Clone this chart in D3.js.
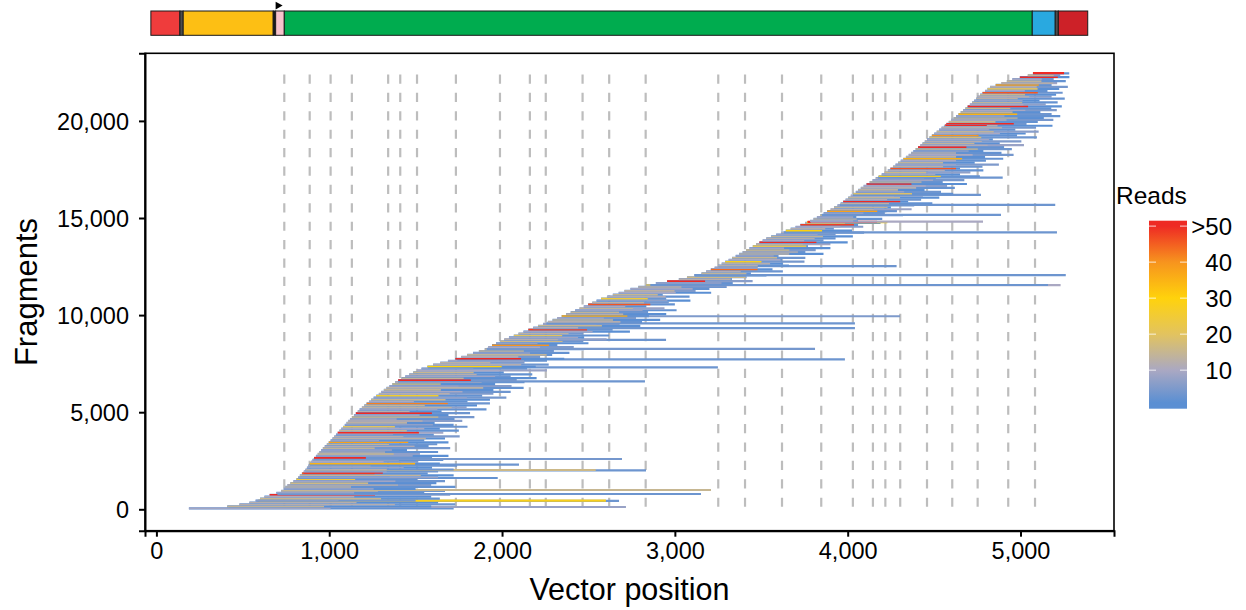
<!DOCTYPE html>
<html>
<head>
<meta charset="utf-8">
<script src="https://cdn.jsdelivr.net/npm/d3@7"></script>
<style>
  html, body { margin: 0; padding: 0; background: #ffffff; }
  svg { display: block; font-family: "Liberation Sans", Arial, Helvetica, sans-serif; }
</style>
</head>
<body>
<svg id="chart" width="1246" height="610"></svg>
<script>
// ---------------- data ----------------
// Fragments are sorted by start position and grouped in bins of 100.
// Each bin keeps its leftmost start, its longest fragment (end + reads)
// and a typical shorter fragment (length + reads).
const binSize = 100;

const binStart = [
  188, 410, 480, 538, 574, 600, 625, 655, 694, 722,
  737, 746, 758, 775, 793, 810, 820, 830, 842, 853,
  863, 871, 879, 887, 895, 903, 912, 923, 933, 943,
  953, 963, 974, 986, 997, 1008, 1019, 1029, 1039, 1049,
  1059, 1070, 1080, 1090, 1100, 1110, 1120, 1131, 1143, 1154,
  1165, 1176, 1189, 1203, 1216, 1230, 1243, 1257, 1272, 1287,
  1301, 1316, 1331, 1348, 1365, 1382, 1399, 1418, 1440, 1463,
  1486, 1509, 1534, 1568, 1601, 1642, 1687, 1730, 1764, 1798,
  1832, 1866, 1900, 1920, 1942, 1965, 1990, 2013, 2040, 2068,
  2095, 2124, 2152, 2180, 2208, 2237, 2265, 2292, 2319, 2345,
  2371, 2397, 2423, 2448, 2473, 2498, 2522, 2547, 2573, 2607,
  2641, 2675, 2708, 2743, 2788, 2833, 2890, 2955, 3023, 3070,
  3115, 3154, 3181, 3208, 3230, 3250, 3271, 3291, 3311, 3331,
  3352, 3372, 3392, 3412, 3432, 3451, 3470, 3489, 3508, 3529,
  3557, 3586, 3614, 3642, 3670, 3698, 3726, 3754, 3782, 3802,
  3822, 3842, 3861, 3881, 3901, 3921, 3941, 3959, 3974, 3988,
  4003, 4018, 4032, 4047, 4061, 4076, 4092, 4109, 4127, 4144,
  4162, 4179, 4197, 4214, 4232, 4247, 4262, 4277, 4292, 4307,
  4322, 4337, 4353, 4367, 4380, 4393, 4407, 4420, 4433, 4446,
  4459, 4473, 4487, 4501, 4515, 4529, 4543, 4557, 4571, 4585,
  4599, 4613, 4627, 4641, 4654, 4668, 4681, 4694, 4707, 4720,
  4732, 4744, 4751, 4766, 4780, 4795, 4809, 4824, 4856, 4889,
  4921, 4953, 4996, 5042, 5072
];

const binEnd = [
  1720, 1590, 1730, 1630, 1500, 1640, 1590, 1700, 1550, 1670,
  1500, 1730, 1590, 1620, 1670, 1510, 1630, 1720, 1570, 1630,
  1720, 1595, 1740, 1640, 1515, 1660, 1595, 1690, 1525, 1630,
  1450, 1700, 1575, 1625, 1690, 1550, 1670, 1755, 1605, 1660,
  1750, 1640, 1800, 1720, 1610, 1770, 1725, 1840, 1690, 1815,
  1650, 1910, 1795, 1855, 1930, 1800, 1930, 2025, 1885, 1950,
  2050, 1950, 2125, 2055, 1960, 2130, 2085, 2200, 2050, 2175,
  2010, 2260, 2145, 2195, 2270, 2130, 2260, 2360, 2220, 2290,
  2390, 2300, 2475, 2415, 2320, 2500, 2470, 2605, 2475, 2620,
  2470, 2740, 2640, 2710, 2800, 2680, 2810, 2915, 2775, 2850,
  2950, 2845, 3010, 2940, 2835, 3000, 2965, 3090, 2950, 3085,
  2930, 3210, 3120, 3200, 3300, 3190, 3335, 3450, 3330, 3415,
  3530, 3440, 3625, 3565, 3480, 3660, 3625, 3750, 3620, 3755,
  3600, 3860, 3755, 3815, 3900, 3770, 3900, 4000, 3860, 3930,
  4030, 3930, 4095, 4025, 3920, 4090, 4060, 4190, 4060, 4200,
  4050, 4320, 4215, 4285, 4370, 4250, 4385, 4490, 4350, 4425,
  4530, 4435, 4610, 4540, 4445, 4620, 4575, 4690, 4550, 4675,
  4510, 4765, 4650, 4710, 4785, 4650, 4780, 4875, 4735, 4800,
  4900, 4795, 4960, 4890, 4785, 4950, 4905, 5020, 4880, 5005,
  4840, 5095, 4980, 5030, 5105, 4970, 5090, 5185, 5035, 5100,
  5190, 5135, 5230, 5180, 5115, 5210, 5178, 5239, 5146, 5215,
  5110, 5256, 5180, 5206, 5244, 5156, 5224, 5274, 5180, 5212,
  5262, 5192, 5283, 5230, 5282
];

const binLongReads = [
  2, 1, 3, 1, 4, 2, 1, 6, 2, 3,
  1, 2, 5, 1, 3, 2, 8, 1, 2, 4,
  3, 1, 2, 1, 5, 2, 3, 1, 7, 2,
  1, 4, 2, 3, 1, 2, 1, 5, 2, 9,
  2, 1, 3, 2, 1, 6, 2, 4, 1, 3,
  1, 2, 7, 1, 3, 2, 1, 4, 2, 5,
  3, 1, 2, 6, 1, 2, 4, 1, 3, 2,
  1, 8, 2, 1, 3, 5, 2, 1, 4, 2,
  2, 3, 1, 5, 2, 1, 3, 7, 1, 2,
  4, 1, 2, 3, 1, 6, 2, 1, 5, 2,
  1, 3, 2, 8, 1, 2, 4, 1, 3, 2,
  2, 1, 5, 2, 3, 1, 2, 6, 1, 4,
  1, 2, 3, 1, 7, 2, 1, 4, 2, 3,
  3, 1, 2, 5, 1, 2, 9, 1, 3, 2,
  1, 4, 2, 1, 3, 6, 2, 1, 5, 2,
  2, 1, 3, 2, 8, 1, 4, 2, 1, 3,
  1, 5, 2, 3, 1, 2, 6, 1, 2, 4,
  3, 2, 1, 7, 2, 1, 3, 5, 1, 2,
  2, 1, 4, 2, 1, 3, 2, 8, 1, 5,
  1, 3, 2, 1, 6, 2, 4, 1, 3, 2,
  4, 1, 2, 3, 1, 5, 2, 1, 7, 2,
  1, 2, 6, 1, 3, 2, 1, 4, 2, 9,
  2, 3, 1, 5, 2
];

const binShortLen = [
  820, 560, 900, 620, 480, 700, 520, 610, 450, 560,
  520, 380, 640, 450, 590, 340, 530, 700, 420, 480,
  470, 560, 360, 610, 420, 500, 300, 560, 440, 380,
  410, 300, 520, 360, 460, 280, 540, 400, 330, 470,
  390, 480, 300, 510, 350, 430, 270, 500, 380, 440,
  300, 450, 520, 350, 470, 260, 430, 540, 360, 410,
  470, 330, 560, 400, 280, 500, 420, 360, 520, 390,
  350, 480, 300, 430, 510, 290, 440, 380, 330, 460,
  330, 260, 390, 300, 330, 240, 360, 310, 400, 280,
  290, 400, 340, 260, 370, 310, 420, 350, 270, 380,
  330, 280, 390, 310, 240, 360, 300, 410, 270, 340,
  260, 330, 290, 360, 250, 310, 380, 220, 300, 340,
  250, 260, 200, 270, 220, 230, 280, 210, 300, 260,
  220, 290, 320, 250, 200, 310, 270, 330, 240, 280,
  300, 240, 280, 210, 200, 260, 310, 230, 250, 250,
  210, 320, 230, 290, 250, 310, 200, 280, 330, 240,
  300, 250, 340, 280, 230, 320, 360, 260, 300, 350,
  280, 360, 310, 240, 330, 380, 290, 350, 260, 320,
  340, 290, 370, 260, 320, 360, 280, 390, 300, 330,
  360, 300, 270, 380, 330, 290, 350, 310, 390, 270,
  320, 370, 280, 340, 300, 360, 260, 350, 310, 290,
  280, 240, 300, 260, 320, 230, 290, 270, 250, 300,
  200, 170, 220, 150, 180
];

const binShortReads = [
  9, 14, 12, 12, 6, 15, 11, 52, 8, 13,
  7, 13, 12, 16, 9, 24, 7, 14, 45, 10,
  12, 8, 11, 35, 10, 11, 55, 7, 15, 12,
  9, 14, 11, 14, 38, 8, 13, 12, 6, 50,
  14, 10, 20, 7, 13, 12, 11, 16, 9, 55,
  12, 8, 13, 14, 42, 10, 15, 7, 26, 12,
  10, 14, 13, 8, 17, 11, 52, 14, 9, 12,
  15, 10, 7, 30, 12, 13, 9, 50, 11, 14,
  8, 14, 13, 10, 40, 7, 16, 12, 9, 20,
  13, 9, 48, 11, 15, 8, 12, 14, 10, 36,
  12, 14, 8, 14, 10, 46, 13, 7, 24, 11,
  15, 10, 13, 9, 13, 20, 8, 52, 12, 16,
  10, 14, 11, 44, 8, 12, 12, 28, 10, 15,
  7, 13, 12, 16, 9, 21, 13, 54, 10, 12,
  14, 8, 11, 30, 12, 9, 48, 14, 9, 13,
  10, 15, 7, 38, 12, 14, 9, 13, 52, 11,
  14, 10, 19, 8, 13, 12, 10, 56, 14, 9,
  12, 26, 9, 16, 11, 46, 13, 8, 14, 10,
  36, 13, 10, 12, 7, 15, 52, 11, 14, 12,
  9, 17, 40, 10, 14, 8, 12, 12, 58, 15,
  11, 14, 9, 35, 13, 10, 16, 50, 10, 14,
  8, 13, 12, 15, 46, 10, 19, 12, 38, 13,
  14, 10, 52, 15, 36
];

// Single fragments that stand out from the body (long tails and bright streaks)
const extraFrag  = [118, 430, 443, 788, 994, 1612, 1890, 2000, 2024, 2297, 2590,
                    6592, 7313, 7725, 8260, 8720, 9330, 9570, 9940, 11545, 11550,
                    12060, 12520, 14260, 14792, 14798, 14816, 15156, 15672, 16186,
                    17076, 19790, 22460];
const extraStart = [420, 585, 590, 700, 737, 822, 852, 863, 865, 887, 910,
                    1398, 1572, 1742, 1912, 2013, 2180, 2257, 2360, 2855, 2858,
                    3112, 3254, 3631, 3765, 3768, 3785, 3850, 3955, 4030,
                    4175, 4565, 5072];
const extraEnd   = [2717, 2677, 2601, 3151, 3209, 1975, 1310, 2833, 2542, 2098, 2694,
                    2827, 3249, 3984, 3811, 2949, 4042, 4042, 4303, 5232, 5159,
                    5262, 4283, 5211, 4230, 4170, 4783, 4887, 5201, 4771,
                    4897, 4805, 5252];
const extraReads = [8, 3, 28, 3, 15, 2, 52, 3, 16, 3, 4,
                    3, 3, 3, 4, 3, 3, 3, 5, 10, 3,
                    3, 3, 3, 30, 55, 10, 3, 3, 3,
                    3, 55, 60];
const totalFragments = 22418;

// Dashed reference positions along the vector
const cutSites = [740, 887, 1008, 1131, 1341, 1411, 1508, 1733, 1988, 2161, 2253,
                  2466, 2620, 2831, 3251, 3406, 3620, 3847, 4030, 4146, 4218,
                  4304, 4459, 4605, 4752, 4929, 5084];

// Vector map features (bp)
const featStart = [-32, 136, 155, 676, 690, 740, 5068, 5201, 5219];
const featEnd   = [136, 155, 676, 690, 740, 5068, 5201, 5219, 5389];
const featColor = ["#ef3c3c", "#4d4d4d", "#fdbf14", "#1a1a1a", "#f7c3cc",
                   "#00ac4f", "#29a9e0", "#4d4d4d", "#cd2128"];
const promoterAt = 690;

const xTicks = [0, 1000, 2000, 3000, 4000, 5000];
const yTicks = [0, 5000, 10000, 15000, 20000];
const legendTicks  = [10, 20, 30, 40, 50];
const legendLabels = ["10", "20", "30", "40", ">50"];

// ---------------- scales ----------------
const svg = d3.select("#chart");
const panel = { left: 145, right: 1114, top: 53.3, bottom: 530.7 };

const x = d3.scaleLinear().domain([-66, 5541]).range([panel.left, panel.right]);
const y = d3.scaleLinear().domain([-1102, 23481]).range([panel.bottom, panel.top]);

const readColor = d3.scaleLinear()
  .domain([1, 10, 20, 30, 40, 50])
  .range(["#5b8fd3", "#aaa8c2", "#e2c35f", "#ffd20c", "#f7941e", "#ee2a24"])
  .interpolate(d3.interpolateRgb)
  .clamp(true);

// ---------------- panel ----------------
svg.append("rect")
  .attr("x", panel.left).attr("y", panel.top)
  .attr("width", panel.right - panel.left).attr("height", panel.bottom - panel.top)
  .attr("fill", "#ffffff");

const plot = svg.append("g");

// dashed markers behind the fragments
plot.selectAll("line.cut")
  .data(cutSites)
  .join("line")
  .attr("class", "cut")
  .attr("x1", d => x(d)).attr("x2", d => x(d))
  .attr("y1", y(totalFragments) + 0.5).attr("y2", y(0))
  .attr("stroke", "#bdbdbd")
  .attr("stroke-width", 2.2)
  .attr("stroke-dasharray", "9.2,9.2");

// fragment segments, drawn in fragment order
const frags = [];
binStart.forEach((s, i) => {
  const f = i * binSize + binSize / 2;
  frags.push({ f, s, e: binEnd[i], r: binLongReads[i], w: 2.2 });
  frags.push({ f, s, e: s + binShortLen[i], r: binShortReads[i], w: 1.6 });
});
extraFrag.forEach((f, i) => {
  frags.push({ f, s: extraStart[i], e: extraEnd[i], r: extraReads[i], w: 2.2 });
});
frags.sort((a, b) => a.f - b.f);

plot.selectAll("line.frag")
  .data(frags)
  .join("line")
  .attr("class", "frag")
  .attr("x1", d => x(d.s)).attr("x2", d => x(d.e))
  .attr("y1", d => y(d.f)).attr("y2", d => y(d.f))
  .attr("stroke", d => readColor(d.r))
  .attr("stroke-width", d => d.w)
  .attr("stroke-linecap", "butt");

// border and axes
svg.append("rect")
  .attr("x", panel.left).attr("y", panel.top)
  .attr("width", panel.right - panel.left).attr("height", panel.bottom - panel.top)
  .attr("fill", "none").attr("stroke", "#000").attr("stroke-width", 1.6);

const xAxis = svg.append("g")
  .attr("transform", `translate(0,${panel.bottom})`)
  .call(d3.axisBottom(x).tickValues(xTicks).tickFormat(d3.format(",")).tickSize(6).tickPadding(4));
const yAxis = svg.append("g")
  .attr("transform", `translate(${panel.left},0)`)
  .call(d3.axisLeft(y).tickValues(yTicks).tickFormat(d3.format(",")).tickSize(6).tickPadding(10));

[xAxis, yAxis].forEach(a => {
  a.select(".domain").attr("stroke", "#000").attr("stroke-width", 2);
  a.selectAll(".tick line").attr("stroke", "#000").attr("stroke-width", 2);
  a.selectAll(".tick text")
    .attr("fill", "#000")
    .style("font-family", '"Liberation Sans", Arial, sans-serif')
    .style("font-size", "23.5px");
});
xAxis.selectAll(".tick text").attr("dy", "0.78em");
yAxis.selectAll(".tick text").attr("dy", "0.35em");

svg.append("text")
  .attr("x", (panel.left + panel.right) / 2).attr("y", 600)
  .attr("text-anchor", "middle")
  .style("font-size", "30.5px")
  .text("Vector position");

svg.append("text")
  .attr("transform", `translate(37,${(panel.top + panel.bottom) / 2}) rotate(-90)`)
  .attr("text-anchor", "middle")
  .style("font-size", "31px")
  .text("Fragments");

// ---------------- vector map ----------------
const bar = svg.append("g");
const barTop = 11, barH = 24.3;
bar.selectAll("rect.feat")
  .data(featStart.map((s, i) => ({ s, e: featEnd[i], c: featColor[i] })))
  .join("rect")
  .attr("class", "feat")
  .attr("x", d => x(d.s)).attr("y", barTop)
  .attr("width", d => x(d.e) - x(d.s)).attr("height", barH)
  .attr("fill", d => d.c)
  .attr("stroke", "#1a1a1a").attr("stroke-width", 1);

const ax = x(promoterAt);
bar.append("path")
  .attr("d", `M${ax},1.8 L${ax + 7},5.6 L${ax},9.4 Z`)
  .attr("fill", "#000");

// ---------------- legend ----------------
const leg = { x: 1149, w: 38, top: 220.7, bottom: 408.7 };
const lv = d3.scaleLinear().domain([-0.7, 51.5]).range([leg.bottom, leg.top]);

const defs = svg.append("defs");
const grad = defs.append("linearGradient")
  .attr("id", "readsGrad")
  .attr("x1", 0).attr("y1", 1).attr("x2", 0).attr("y2", 0);
const gradStops = [-0.7, 1, 5, 10, 15, 20, 25, 30, 35, 40, 45, 50, 51.5];
grad.selectAll("stop")
  .data(gradStops)
  .join("stop")
  .attr("offset", d => (d - lv.domain()[0]) / (lv.domain()[1] - lv.domain()[0]))
  .attr("stop-color", d => readColor(d));

svg.append("rect")
  .attr("x", leg.x).attr("y", leg.top)
  .attr("width", leg.w).attr("height", leg.bottom - leg.top)
  .attr("fill", "url(#readsGrad)");

const legTicks = svg.append("g");
legendTicks.forEach(v => {
  legTicks.append("line")
    .attr("x1", leg.x).attr("x2", leg.x + 7)
    .attr("y1", lv(v)).attr("y2", lv(v))
    .attr("stroke", "#ffffff").attr("stroke-opacity", 0.8).attr("stroke-width", 1);
  legTicks.append("line")
    .attr("x1", leg.x + leg.w - 7).attr("x2", leg.x + leg.w)
    .attr("y1", lv(v)).attr("y2", lv(v))
    .attr("stroke", "#ffffff").attr("stroke-opacity", 0.8).attr("stroke-width", 1);
});

svg.append("g").selectAll("text")
  .data(legendTicks)
  .join("text")
  .attr("x", 1232)
  .attr("y", d => lv(d))
  .attr("dy", "0.35em")
  .attr("text-anchor", "end")
  .style("font-size", "24px")
  .text((d, i) => legendLabels[i]);

svg.append("text")
  .attr("x", 1116).attr("y", 204)
  .style("font-size", "24.5px")
  .text("Reads");
</script>
</body>
</html>
